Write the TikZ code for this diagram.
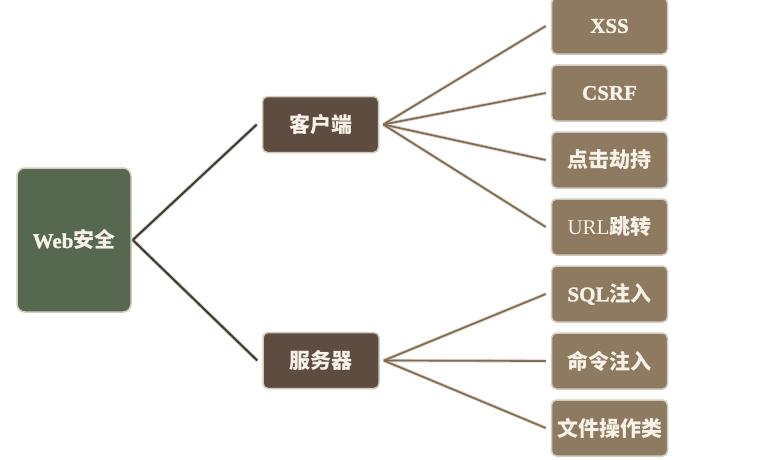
\documentclass[tikz,border=0pt]{standalone}
\usepackage{fontspec}
\setmainfont{Liberation Serif}
\newfontfamily\cjk{Noto Sans CJK SC}
\newfontfamily\latb{Liberation Serif}[FakeBold=1.2]
\definecolor{rootfill}{HTML}{56684F}
\definecolor{midfill}{HTML}{5E4C41}
\definecolor{leaffill}{HTML}{8E7961}
\definecolor{boxedge}{HTML}{D2CBC0}
\definecolor{boxtext}{HTML}{F8F2E8}
\definecolor{rootln}{HTML}{3F3A35}
\definecolor{rootlnedge}{HTML}{CFC8BF}
\definecolor{leafln}{HTML}{7F6C55}
\definecolor{leaflnedge}{HTML}{DDD3C4}
\tikzset{
  basebox/.style={draw=boxedge, line width=1.5pt, rounded corners=5pt,
    text=boxtext, inner sep=0pt, font=\fontsize{21}{24}\selectfont},
  rootbox/.style={basebox, fill=rootfill, minimum width=114pt, minimum height=144pt, rounded corners=8pt},
  midbox/.style={basebox, fill=midfill, minimum width=116pt, minimum height=56pt},
  leafbox/.style={basebox, fill=leaffill, minimum width=116pt, minimum height=56pt},
  rootlnunder/.style={draw=rootlnedge, line width=3.6pt},
  rootlntop/.style={draw=rootln, line width=2pt},
  leaflnunder/.style={draw=leaflnedge, line width=3.4pt},
  leaflntop/.style={draw=leafln, line width=1.7pt}
}
\newcommand{\lb}[1]{{\latb\bfseries #1}}
\newcommand{\cb}[1]{{\cjk\bfseries #1}}
\begin{document}
\begin{tikzpicture}[x=1pt,y=-1pt]
\useasboundingbox (0,0) rectangle (765,459);
\fill[white] (0,0) rectangle (765,459);
% nodes
\node[rootbox] (root) at (74,240) {\lb{Web}\cb{安全}};
\node[midbox] (kh) at (320.5,124.5) {\cb{客户端}};
\node[midbox] (fw) at (321,360.5) {\cb{服务器}};
\node[leafbox] (xss) at (609.5,26) {\lb{XSS}};
\node[leafbox] (csrf) at (609.5,93) {\lb{CSRF}};
\node[leafbox] (djjc) at (609.5,160) {\cb{点击劫持}};
\node[leafbox] (url) at (609.5,227) {URL\cb{跳转}};
\node[leafbox] (sql) at (609.5,294) {\lb{SQL}\cb{注入}};
\node[leafbox] (mlzr) at (609.5,361) {\cb{命令注入}};
\node[leafbox] (wjcz) at (609.5,428) {\cb{文件操作类}};
% fan points
\coordinate (khf) at ([xshift=4pt]kh.east);
\coordinate (fwf) at ([xshift=4pt]fw.east);
% root connectors
\foreach \s in {rootlnunder,rootlntop}{
  \draw[\s] ([xshift=1pt]root.east) -- ([xshift=-5pt]kh.west);
  \draw[\s] ([xshift=1pt]root.east) -- ([xshift=-5pt]fw.west);
}
% leaf connectors
\foreach \s in {leaflnunder,leaflntop}{
  \foreach \t in {xss,csrf,djjc,url}
    \draw[\s] (khf) -- ([xshift=-5pt]\t.west);
  \foreach \t in {sql,mlzr,wjcz}
    \draw[\s] (fwf) -- ([xshift=-5pt]\t.west);
}
\end{tikzpicture}
\end{document}
